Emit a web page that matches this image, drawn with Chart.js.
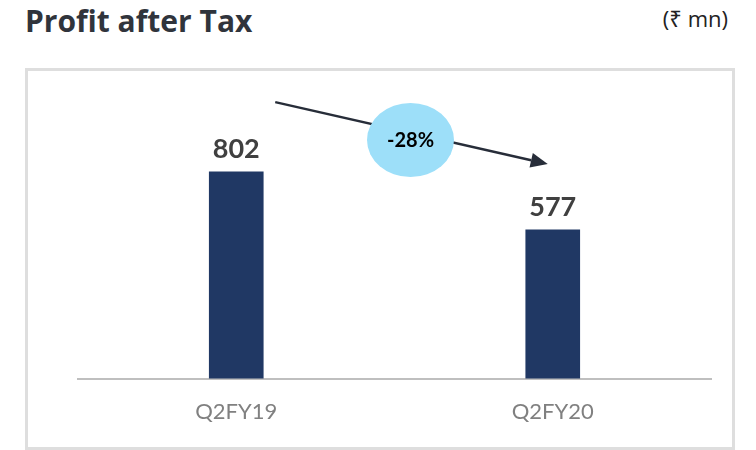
<!DOCTYPE html>
<html>
<head>
<meta charset="utf-8">
<script src="https://cdn.jsdelivr.net/npm/chart.js@4"></script>
<style>
  html, body { margin: 0; padding: 0; background: #fff; width: 756px; height: 450px; overflow: hidden; }
  #title { position: absolute; left: 25px; top: 3px; font-family: "Open Sans", "Noto Sans", sans-serif; font-weight: 700; font-size: 30px; line-height: 1.2; color: #30343c; white-space: nowrap; }
  #unit { position: absolute; right: 28px; top: 5px; font-family: "Open Sans", "Noto Sans", "DejaVu Sans", sans-serif; font-size: 22px; line-height: 1.2; color: #222; white-space: nowrap; }
  #box { position: absolute; left: 25px; top: 68px; width: 710px; height: 382px; box-sizing: border-box; border: 3px solid #dedede; }
  #c { position: absolute; left: 0; top: 0; }
</style>
</head>
<body>
<div id="title">Profit after Tax</div>
<div id="unit">(₹ mn)</div>
<div id="box"></div>
<canvas id="c" width="756" height="450"></canvas>
<script>
const categories = ["Q2FY19", "Q2FY20"];
const profitValues = [802, 577];
const changeLabel = Math.round((profitValues[1] - profitValues[0]) / profitValues[0] * 100) + "%";

const overlayPlugin = {
  id: 'overlay',
  afterDatasetsDraw(chart) {
    const ctx = chart.ctx;
    const meta = chart.getDatasetMeta(0);
    const xs = chart.scales.x, ys = chart.scales.y;
    ctx.save();
    // value labels
    ctx.font = "700 27px Lato, 'Noto Sans', sans-serif";
    ctx.fillStyle = "#404040";
    ctx.textAlign = "center";
    ctx.textBaseline = "alphabetic";
    meta.data.forEach((bar, i) => {
      ctx.fillText(String(profitValues[i]), bar.x, bar.y - 14);
    });
    // arrow
    const x0 = xs.getPixelForValue(0) + 39, y0 = ys.getPixelForValue(1072);
    const x1 = xs.getPixelForValue(1) - 5, y1 = ys.getPixelForValue(832);
    const ang = Math.atan2(y1 - y0, x1 - x0);
    const headLen = 17, headHalf = 7.5;
    const bx = x1 - headLen * Math.cos(ang), by = y1 - headLen * Math.sin(ang);
    ctx.strokeStyle = "#272d39";
    ctx.lineWidth = 2.5;
    ctx.beginPath();
    ctx.moveTo(x0, y0);
    ctx.lineTo(bx, by);
    ctx.stroke();
    ctx.fillStyle = "#272d39";
    ctx.beginPath();
    ctx.moveTo(x1, y1);
    ctx.lineTo(bx + headHalf * Math.sin(ang), by - headHalf * Math.cos(ang));
    ctx.lineTo(bx - headHalf * Math.sin(ang), by + headHalf * Math.cos(ang));
    ctx.closePath();
    ctx.fill();
    // ellipse badge
    const cx = (xs.getPixelForValue(0) + xs.getPixelForValue(1)) / 2 + 16;
    const cy = ys.getPixelForValue(925);
    ctx.fillStyle = "#9ddff9";
    ctx.beginPath();
    ctx.ellipse(cx, cy, 43.5, 37, 0, 0, Math.PI * 2);
    ctx.fill();
    ctx.fillStyle = "#000";
    ctx.font = "700 20px Lato, 'Noto Sans', sans-serif";
    ctx.textBaseline = "middle";
    ctx.fillText(changeLabel, cx, cy + 1);
    ctx.restore();
  }
};

new Chart(document.getElementById('c'), {
  type: 'bar',
  data: {
    labels: categories,
    datasets: [{
      data: profitValues,
      backgroundColor: '#203864',
      barThickness: 54,
      borderWidth: 0
    }]
  },
  options: {
    responsive: false,
    animation: false,
    devicePixelRatio: 1,
    layout: { padding: { left: 78, right: 45, top: 82, bottom: 5 } },
    plugins: { legend: { display: false }, tooltip: { enabled: false } },
    scales: {
      x: {
        grid: { display: false, drawTicks: false },
        border: { display: true, color: '#bfbfbf', width: 2 },
        ticks: { color: '#808080', font: { family: "Lato, 'Noto Sans', sans-serif", size: 22 }, padding: 20 }
      },
      y: {
        display: false,
        min: 0,
        max: 1150
      }
    }
  },
  plugins: [overlayPlugin]
});
</script>
</body>
</html>
